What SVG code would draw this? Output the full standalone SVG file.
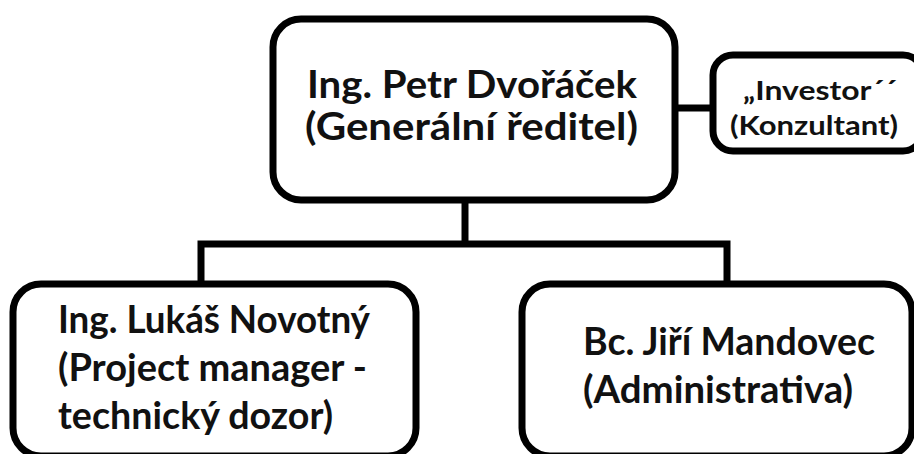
<svg xmlns="http://www.w3.org/2000/svg" width="914" height="454" viewBox="0 0 914 454">
<style>
.box{fill:#fff;stroke:#000;stroke-width:7}
.con{fill:none;stroke:#000;stroke-width:7;stroke-linejoin:miter}
text{font-family:Lato,"Open Sans","Noto Sans",sans-serif;font-weight:bold;fill:#111}
.big{font-size:38px}
.sm{font-size:26px}
</style>
<rect width="914" height="454" fill="#fff"/>
<g id="connectors">
<line class="con" x1="675" y1="108" x2="713" y2="108"/>
<line class="con" x1="465" y1="200" x2="465" y2="244"/>
<polyline class="con" points="201,284 201,244 727,244 727,284"/>
</g>
<g id="node-ceo">
<rect class="box" x="273" y="19" width="402" height="181" rx="28"/>
<text class="big" x="307" y="98" textLength="330" lengthAdjust="spacingAndGlyphs">Ing. Petr Dvořáček</text>
<text class="big" x="305" y="140" textLength="333" lengthAdjust="spacingAndGlyphs">(Generální ředitel)</text>
</g>
<g id="node-investor">
<rect class="box" x="713" y="55" width="210" height="96" rx="20"/>
<text class="sm" x="743" y="100" textLength="154" lengthAdjust="spacingAndGlyphs">„Investor´´</text>
<text class="sm" x="730" y="135" textLength="168" lengthAdjust="spacingAndGlyphs">(Konzultant)</text>
</g>
<g id="node-pm">
<rect class="box" x="13" y="284" width="403" height="172" rx="28"/>
<text class="big" x="58" y="333" textLength="312" lengthAdjust="spacingAndGlyphs">Ing. Lukáš Novotný</text>
<text class="big" x="58" y="381" textLength="309" lengthAdjust="spacingAndGlyphs">(Project manager -</text>
<text class="big" x="58" y="429" textLength="275" lengthAdjust="spacingAndGlyphs">technický dozor)</text>
</g>
<g id="node-admin">
<rect class="box" x="522" y="284" width="390" height="172" rx="28"/>
<text class="big" x="583" y="355" textLength="292" lengthAdjust="spacingAndGlyphs">Bc. Jiří Mandovec</text>
<text class="big" x="583" y="403" textLength="270" lengthAdjust="spacingAndGlyphs">(Administrativa)</text>
</g>
</svg>
